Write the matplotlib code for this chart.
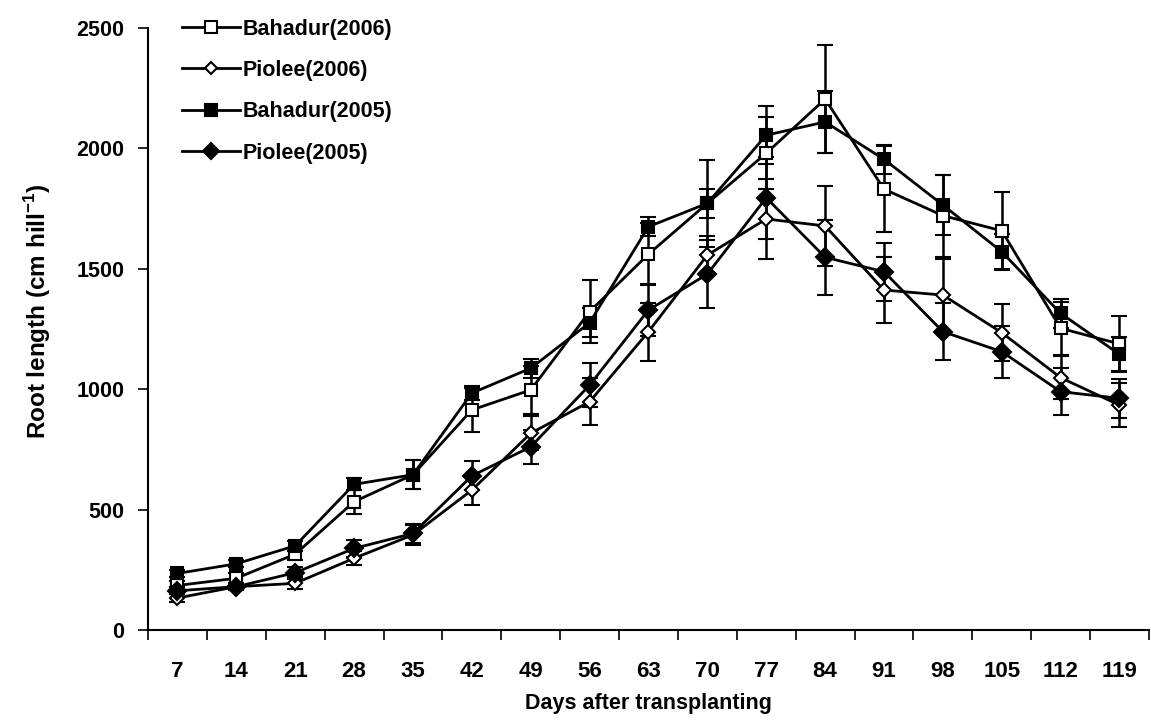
import numpy as np
import matplotlib.pyplot as plt
from matplotlib.lines import Line2D
from matplotlib.ticker import FixedLocator, NullLocator

plt.rcParams['font.family'] = ['Liberation Sans', 'DejaVu Sans']
plt.rcParams['font.weight'] = 'bold'
plt.rcParams['mathtext.fontset'] = 'custom'
plt.rcParams['mathtext.rm'] = 'Liberation Sans:bold'
plt.rcParams['mathtext.bf'] = 'Liberation Sans:bold'

days = [7, 14, 21, 28, 35, 42, 49, 56, 63, 70, 77, 84, 91, 98, 105, 112, 119]

bahadur_2006 = [185, 215, 315, 533, 645, 914, 997, 1322, 1561, 1772, 1980, 2205, 1831, 1721, 1658, 1253, 1188]
bahadur_2006_err = [20, 20, 25, 50, 60, 90, 100, 130, 130, 180, 150, 225, 180, 170, 160, 110, 116]

piolee_2006 = [133, 180, 194, 298, 395, 581, 817, 948, 1239, 1557, 1707, 1678, 1412, 1391, 1235, 1048, 934]
piolee_2006_err = [15, 15, 25, 30, 40, 60, 70, 97, 120, 80, 165, 167, 138, 150, 117, 90, 90]

bahadur_2005 = [235, 275, 350, 605, 645, 984, 1087, 1276, 1675, 1772, 2055, 2110, 1955, 1765, 1571, 1315, 1145]
bahadur_2005_err = [15, 15, 20, 25, 60, 30, 40, 60, 40, 60, 120, 130, 60, 125, 75, 60, 70]

piolee_2005 = [163, 180, 238, 339, 401, 640, 761, 1017, 1329, 1478, 1795, 1548, 1488, 1239, 1156, 990, 962]
piolee_2005_err = [15, 15, 25, 35, 40, 60, 70, 91, 110, 140, 170, 155, 120, 118, 108, 97, 80]

series = [
    ('Bahadur(2006)', bahadur_2006, bahadur_2006_err, 's', 'white', 9),
    ('Piolee(2006)', piolee_2006, piolee_2006_err, 'D', 'white', 7),
    ('Bahadur(2005)', bahadur_2005, bahadur_2005_err, 's', 'black', 9),
    ('Piolee(2005)', piolee_2005, piolee_2005_err, 'D', 'black', 9),
]

fig = plt.figure(figsize=(11.51, 7.24), dpi=100)
ax = fig.add_axes([0.1286, 0.1298, 0.8696, 0.8315])

x = np.arange(len(days))
handles = []
for label, vals, err, marker, face, ms in series:
    ax.errorbar(x, vals, yerr=err, color='black', lw=2.0, marker=marker,
                markersize=ms, markerfacecolor=face, markeredgecolor='black',
                markeredgewidth=1.5, ecolor='black', elinewidth=1.8,
                capsize=5.5, capthick=1.8)
    handles.append(Line2D([], [], color='black', lw=2.0, marker=marker,
                          markersize=ms - 1, markerfacecolor=face,
                          markeredgecolor='black', markeredgewidth=1.5,
                          label=label))

ax.set_xlim(-0.5, len(days) - 0.5)
ax.set_ylim(0, 2500)
ax.set_yticks([0, 500, 1000, 1500, 2000, 2500])
ax.set_xticks(x)
ax.set_xticklabels([str(d) for d in days])
ax.xaxis.set_minor_locator(FixedLocator(np.arange(-0.5, len(days), 1.0)))
ax.tick_params(axis='x', which='major', length=0, pad=22, labelsize=16)
ax.tick_params(axis='x', which='minor', length=7, width=1.2, direction='out')
ax.tick_params(axis='y', which='major', length=7, width=1.2, direction='out',
               pad=10, labelsize=15.5)
ax.yaxis.set_minor_locator(NullLocator())
for lab in ax.get_xticklabels() + ax.get_yticklabels():
    lab.set_fontweight('bold')

ax.spines['top'].set_visible(False)
ax.spines['right'].set_visible(False)
ax.spines['left'].set_linewidth(1.5)
ax.spines['bottom'].set_linewidth(1.5)

ax.set_xlabel('Days after transplanting', fontsize=15.5, fontweight='bold')
ax.xaxis.set_label_coords(0.5, -0.104)
ax.set_ylabel('Root length (cm hill$^{\\mathbf{-1}}$)', fontsize=17.5,
              fontweight='bold')
ax.yaxis.set_label_coords(-0.095, 0.53)

leg = ax.legend(handles=handles, loc='upper left', bbox_to_anchor=(0.025, 1.03),
                frameon=False, fontsize=15.5, handlelength=2.7, handletextpad=0.15,
                labelspacing=0.95, borderaxespad=0.0)
for t in leg.get_texts():
    t.set_fontweight('bold')

fig.savefig('out.png', dpi=100)
